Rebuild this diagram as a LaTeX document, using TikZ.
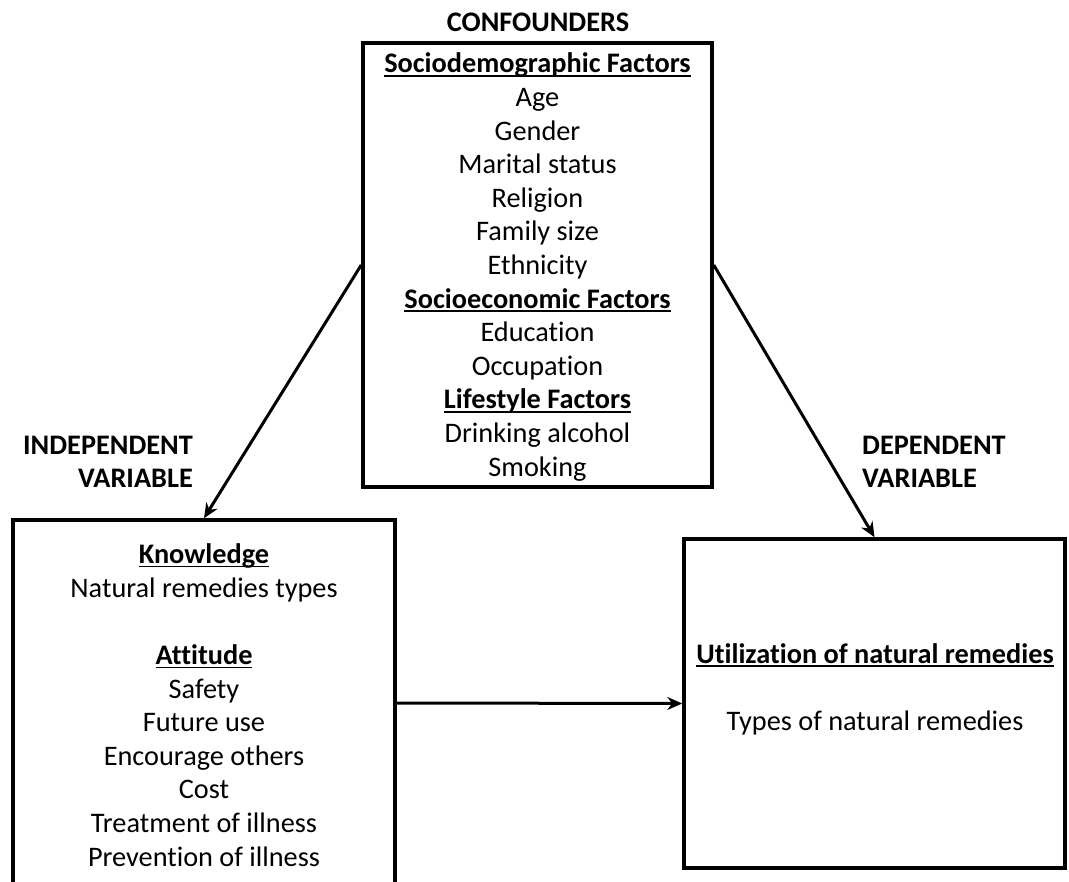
\documentclass[tikz,border=0pt]{standalone}
\usepackage{fontspec}
\setmainfont[Ligatures=NoCommon]{Carlito}
\usetikzlibrary{arrows.meta}
\newcommand{\ulx}[1]{\setbox0\hbox{#1}\rlap{\rule[-3.8pt]{\wd0}{1.7pt}}\box0}
\tikzset{
  box/.style={draw=black, line width=3.5pt, fill=white, inner sep=0pt},
  txt/.style={align=center, inner sep=0pt, font=\fontsize{28.3}{33.6}\selectfont},
  head/.style={inner sep=0pt, font=\fontsize{28.3}{33.6}\selectfont\bfseries},
  arr/.style={line width=3pt, -{Stealth[length=15pt,width=13pt]}}
}
\begin{document}
\begin{tikzpicture}[x=1pt,y=-1pt]
\useasboundingbox (0,0) rectangle (1069,882);
\clip (0,0) rectangle (1069,882);
% boxes
\node[box, minimum width=349pt, minimum height=444pt] (top) at (537.5,265) {};
\node[box, minimum width=382pt, minimum height=366pt] (lbox) at (204,703) {};
\node[box, minimum width=381pt, minimum height=329pt] (rbox) at (874.5,703.5) {};
% headings
\node[head] (conf) at (538,22) {CONFOUNDERS};
\node[head, align=right, anchor=east] (indep) at (193,462) {INDEPENDENT\\VARIABLE};
\node[head, align=left, anchor=west] (dep) at (862,462) {DEPENDENT\\VARIABLE};
% box texts
\node[txt] (toptext) at (537.5,267) {\ulx{\bfseries Sociodemographic Factors}\\Age\\Gender\\Marital status\\Religion\\Family size\\Ethnicity\\\ulx{\bfseries Socioeconomic Factors}\\Education\\Occupation\\\ulx{\bfseries Lifestyle Factors}\\Drinking alcohol\\Smoking};
\node[txt] (ltext) at (204,705) {\ulx{\bfseries Knowledge}\\Natural remedies types\\[33.6pt]\ulx{\bfseries Attitude}\\Safety\\Future use\\Encourage others\\Cost\\Treatment of illness\\Prevention of illness};
\node[txt] (rtext) at (875,689) {\ulx{\bfseries Utilization of natural remedies}\\[33.6pt]Types of natural remedies};
% connectors
\draw[arr] (top.west) -- (lbox.north);
\draw[arr] (top.east) -- (rbox.north);
\draw[arr] (lbox.east) -- (rbox.west);
\end{tikzpicture}
\end{document}
